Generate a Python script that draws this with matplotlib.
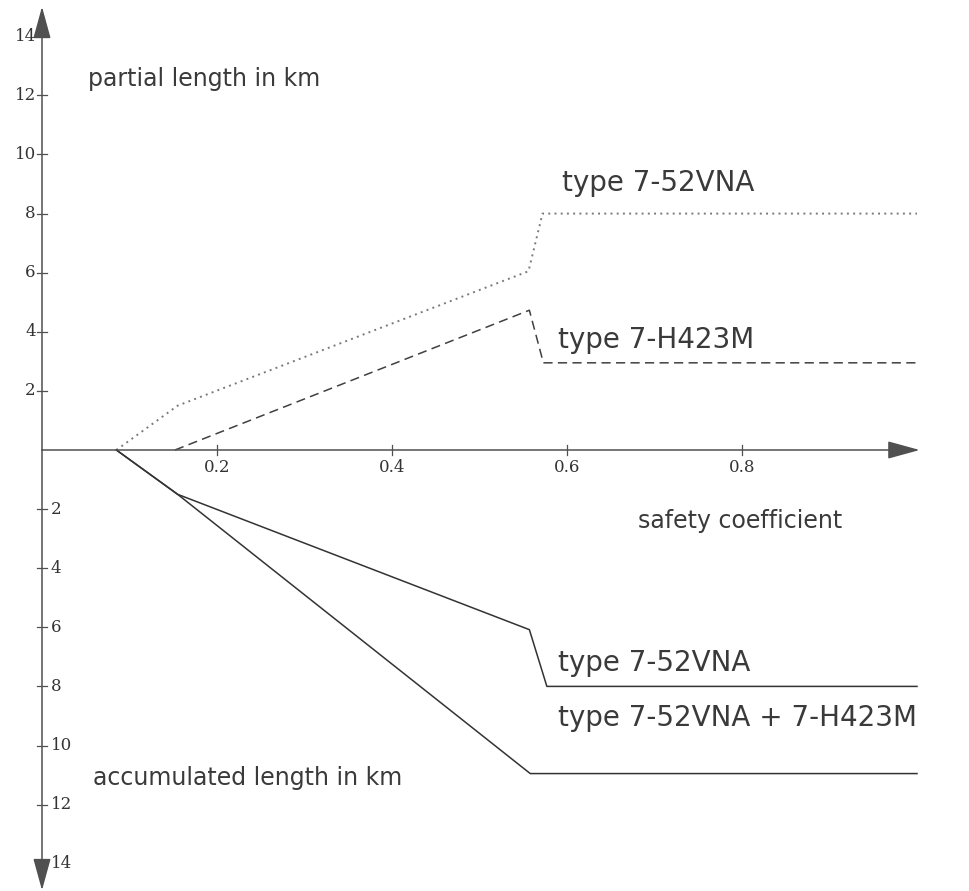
import matplotlib
matplotlib.use("Agg")
import matplotlib.pyplot as plt

# ---- data ----
x_vna_partial = [0.085, 0.155, 0.556, 0.572, 1.0]
y_vna_partial = [0.0, 1.5, 6.05, 8.0, 8.0]

x_h423_partial = [0.152, 0.557, 0.573, 1.0]
y_h423_partial = [0.0, 4.73, 2.95, 2.95]

x_vna_accum = [0.085, 0.155, 0.557, 0.577, 1.0]
y_vna_accum = [0.0, -1.5, -6.08, -8.0, -8.0]

x_sum_accum = [0.085, 0.155, 0.558, 1.0]
y_sum_accum = [0.0, -1.5, -10.95, -10.95]

x_ticks = [0.2, 0.4, 0.6, 0.8]
x_tick_labels = ["0.2", "0.4", "0.6", "0.8"]
y_ticks_up = [2, 4, 6, 8, 10, 12, 14]
y_tick_labels_up = ["2", "4", "6", "8", "10", "12", "14"]
y_ticks_down = [-2, -4, -6, -8, -10, -12, -14]
y_tick_labels_down = ["2", "4", "6", "8", "10", "12", "14"]

TXT = "#3a3a3a"
AX = "#505050"

fig = plt.figure(figsize=(9.70, 8.91), dpi=100)
ax = fig.add_axes([0, 0, 1, 1])
ax.set_xlim(-42 / 875, (970 - 42) / 875)
ax.set_ylim(-(891 - 450) / 29.55, 450 / 29.55)
ax.axis("off")

# axes with arrowheads
arrow = dict(arrowstyle="-|>,head_length=2.0,head_width=0.55", mutation_scale=10,
             color=AX, lw=1.1, shrinkA=0, shrinkB=0)
ax.annotate("", xy=(1.003, 0), xytext=(0, 0), arrowprops=arrow, annotation_clip=False)
ax.annotate("", xy=(0, 15.0), xytext=(0, 0), arrowprops=arrow, annotation_clip=False)
ax.annotate("", xy=(0, -14.9), xytext=(0, 0), arrowprops=arrow, annotation_clip=False)

# tick marks
for xt in x_ticks:
    ax.plot([xt, xt], [-0.18, 0.18], color=AX, lw=0.9)
for yt in y_ticks_up + y_ticks_down:
    ax.plot([-0.0058, 0.0058], [yt, yt], color=AX, lw=0.9)

tick_font = dict(family="DejaVu Serif", fontsize=12, color="#333333")
for xt, lab in zip(x_ticks, x_tick_labels):
    ax.text(xt, -0.3, lab, ha="center", va="top", **tick_font)
for yt, lab in zip(y_ticks_up, y_tick_labels_up):
    ax.text(-0.007, yt, lab, ha="right", va="center", **tick_font)
for yt, lab in zip(y_ticks_down, y_tick_labels_down):
    ax.text(0.010, yt, lab, ha="left", va="center", **tick_font)

# data lines
ax.plot(x_vna_partial, y_vna_partial, color="#7a7a7a", lw=1.4, ls=(0, (1, 2.2)))
ax.plot(x_h423_partial, y_h423_partial, color="#404040", lw=1.1, ls=(0, (6, 3.5)))
ax.plot(x_vna_accum, y_vna_accum, color="#333333", lw=1.1)
ax.plot(x_sum_accum, y_sum_accum, color="#333333", lw=1.1)

big = dict(family="DejaVu Sans", fontsize=20, color=TXT)
small = dict(family="DejaVu Sans", fontsize=17, color=TXT)
ax.text(0.053, 12.55, "partial length in km", ha="left", va="center", **small)
ax.text(0.594, 9.05, "type 7-52VNA", ha="left", va="center", **big)
ax.text(0.590, 3.72, "type 7-H423M", ha="left", va="center", **big)
ax.text(0.681, -2.40, "safety coefficient", ha="left", va="center", **small)
ax.text(0.590, -7.2, "type 7-52VNA", ha="left", va="center", **big)
ax.text(0.590, -9.07, "type 7-52VNA + 7-H423M", ha="left", va="center", **big)
ax.text(0.058, -11.1, "accumulated length in km", ha="left", va="center", **small)

fig.savefig("out.png", dpi=100)
